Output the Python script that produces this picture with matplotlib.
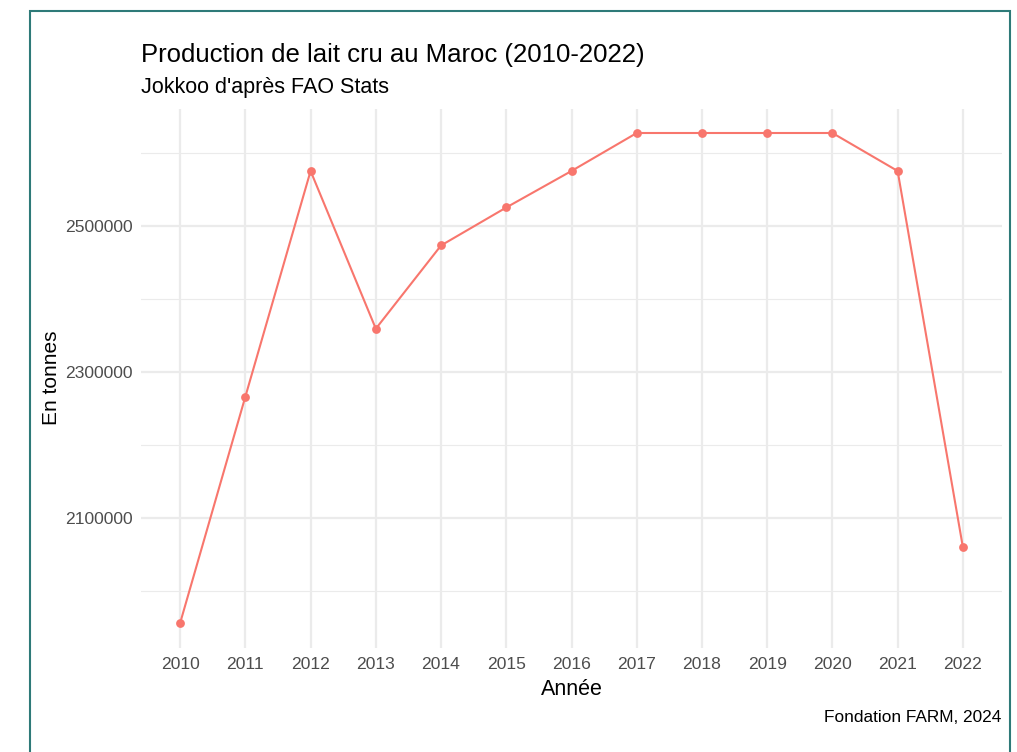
import matplotlib
matplotlib.use("Agg")
import matplotlib.pyplot as plt
from matplotlib.patches import Rectangle

years = [2010, 2011, 2012, 2013, 2014, 2015, 2016, 2017, 2018, 2019, 2020, 2021, 2022]
production = [1956000, 2266000, 2575000, 2359000, 2473000, 2525000, 2575000,
              2627000, 2627000, 2627000, 2627000, 2575000, 2060000]
y_ticks = [2100000, 2300000, 2500000]
y_minor = [2000000, 2200000, 2400000, 2600000]

title = "Production de lait cru au Maroc (2010-2022)"
subtitle = "Jokkoo d'après FAO Stats"
xlabel = "Année"
ylabel = "En tonnes"
caption = "Fondation FARM, 2024"

plt.rcParams['font.family'] = ['Liberation Sans', 'DejaVu Sans']

W, H = 1017, 752
fig = plt.figure(figsize=(W / 100, H / 100), dpi=100)
fig.patch.set_facecolor("white")

# border
fig.add_artist(Rectangle((29.5 / W, -0.05), (1010 - 29.5) / W, 1.05 - 10.5 / H,
                         transform=fig.transFigure, fill=False,
                         edgecolor="#2E7A78", linewidth=1.5))

left, right, top, bottom = 141, 1002, 108.5, 647.5
ax = fig.add_axes([left / W, 1 - bottom / H, (right - left) / W, (bottom - top) / H])

ax.plot(years, production, color="#F8766D", linewidth=1.5, zorder=3)
ax.scatter(years, production, color="#F8766D", s=40, zorder=4, linewidths=0)

span = max(production) - min(production)
ax.set_ylim(min(production) - 0.05 * span, max(production) + 0.05 * span)
ax.set_xlim(years[0] - 0.6, years[-1] + 0.6)

ax.set_xticks(years)
ax.set_xticklabels([str(y) for y in years])
ax.set_yticks(y_ticks)
ax.set_yticklabels([str(v) for v in y_ticks])
ax.set_yticks(y_minor, minor=True)

ax.grid(True, which="major", color="#EBEBEB", linewidth=1.6, zorder=0)
ax.grid(True, which="minor", axis="y", color="#EBEBEB", linewidth=0.8, zorder=0)
ax.set_axisbelow(True)
for s in ax.spines.values():
    s.set_visible(False)
ax.tick_params(axis="both", which="both", length=0, labelsize=12.6, labelcolor="#4D4D4D")
ax.tick_params(axis="x", pad=7)
ax.tick_params(axis="y", pad=6)

ax.set_xlabel(xlabel, fontsize=15.5, color="black", labelpad=5)
ax.set_ylabel(ylabel, fontsize=15, color="black", labelpad=3)

fig.text(left / W, 1 - 55 / H, title, fontsize=18.5, ha="left", va="center", color="black")
fig.text(left / W, 1 - 88 / H, subtitle, fontsize=15.5, ha="left", va="center", color="black")
fig.text(1001 / W, 1 - 717 / H, caption, fontsize=12.4, ha="right", va="center", color="black")

fig.savefig("out.png", dpi=100)
